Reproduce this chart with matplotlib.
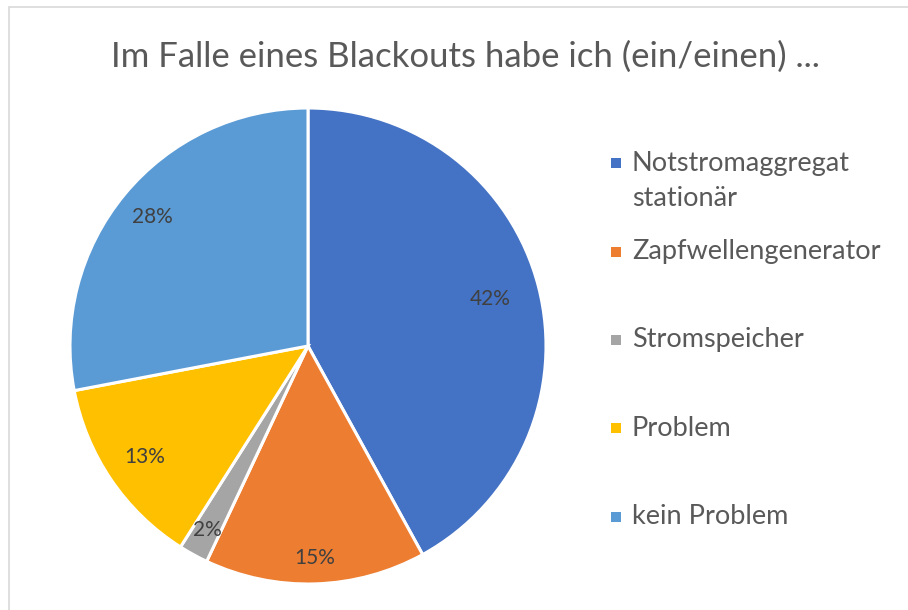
import matplotlib
matplotlib.use("Agg")
import matplotlib.pyplot as plt
import numpy as np
from matplotlib.patches import Rectangle

title = "Im Falle eines Blackouts habe ich (ein/einen) ..."
categories = ["Notstromaggregat\nstationär", "Zapfwellengenerator", "Stromspeicher", "Problem", "kein Problem"]
values = [42, 15, 2, 13, 28]
colors = ["#4472C4", "#ED7D31", "#A5A5A5", "#FFC000", "#5B9BD5"]

FONT = ["Lato", "DejaVu Sans"]
plt.rcParams['font.family'] = FONT

W, H = 908, 610
fig = plt.figure(figsize=(W/100, H/100), dpi=100)
fig.patch.set_facecolor("white")

# chart-area border
fig.patches.append(Rectangle((9/W, -0.1), 1.2, 1.1 - 7/H, transform=fig.transFigure,
                             fill=False, edgecolor="#D9D9D9", linewidth=1.2))

cx, cy, r = 308, 346, 238
ax = fig.add_axes([(cx - r)/W, (H - cy - r)/H, 2*r/W, 2*r/H])
wedges, _ = ax.pie(values, colors=colors, startangle=90, counterclock=False, radius=1,
                   wedgeprops=dict(edgecolor="white", linewidth=2.2))
ax.set_xlim(-1, 1); ax.set_ylim(-1, 1)
ax.set_aspect("equal")
ax.axis("off")

dists = [0.79, 0.89, 0.88, 0.83, 0.85]
for w, v, d in zip(wedges, values, dists):
    ang = np.deg2rad((w.theta1 + w.theta2) / 2)
    ax.text(d*np.cos(ang), d*np.sin(ang), f"{v}%", ha="center", va="center",
            fontsize=15, color="#404040")

fig.text(465/W, 1 - 57/H, title, ha="center", va="center", fontsize=25, color="#595959")

# legend
ys = [163, 252, 340, 428, 517]
for c, lab, y in zip(colors, categories, ys):
    fig.patches.append(Rectangle((611/W, 1 - (y + 5)/H), 10/W, 10/H, transform=fig.transFigure,
                                 facecolor=c, edgecolor="none"))
    fig.text(632/W, 1 - y/H, lab.split("\n")[0], ha="left", va="center", fontsize=19.5,
             color="#595959")
    if "\n" in lab:
        fig.text(632/W, 1 - (y + 36)/H, lab.split("\n")[1], ha="left", va="center",
                 fontsize=19.5, color="#595959")

fig.savefig("out.png", dpi=100, facecolor="white")
